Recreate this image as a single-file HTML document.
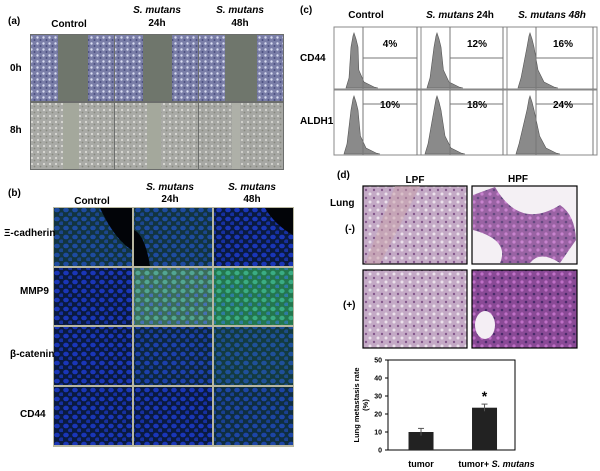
<!DOCTYPE html>
<html><head><meta charset="utf-8">
<style>
html,body{margin:0;padding:0;background:#fff;}
body{width:600px;height:471px;overflow:hidden;position:relative;font-family:"Liberation Sans",Arial,sans-serif;}
svg{position:absolute;left:0;top:0;}
text{font-family:"Liberation Sans",Arial,sans-serif;font-weight:bold;fill:#000;}
</style></head>
<body>
<svg id="fig" width="600" height="471" viewBox="0 0 600 471">
<defs>
 <pattern id="cellsA" width="6" height="6" patternUnits="userSpaceOnUse">
  <rect width="6" height="6" fill="#7a7ea8"/>
  <circle cx="1.5" cy="1.5" r="1.2" fill="#d8dcf0"/><circle cx="4.5" cy="4" r="1" fill="#4a4f80"/>
 </pattern>
 <pattern id="cellsB" width="6" height="6" patternUnits="userSpaceOnUse">
  <rect width="6" height="6" fill="#a9aaa6"/>
  <circle cx="2" cy="2" r="1.1" fill="#d9d9d4"/><circle cx="4.5" cy="4.5" r="0.9" fill="#87887f"/>
 </pattern>
 <pattern id="nucA" width="9" height="9" patternUnits="userSpaceOnUse">
  <rect width="9" height="9" fill="#0a1a40"/>
  <ellipse cx="3" cy="3" rx="2.8" ry="2.3" fill="#1a36b8"/><ellipse cx="7.5" cy="7.5" rx="2.5" ry="2.1" fill="#1630a0"/>
 </pattern>
 <pattern id="nucG" width="9" height="9" patternUnits="userSpaceOnUse">
  <rect width="9" height="9" fill="#1a5a48"/>
  <ellipse cx="3" cy="3" rx="2.6" ry="2.2" fill="#38a090"/><ellipse cx="7.5" cy="7.5" rx="2.4" ry="2" fill="#2a60b8"/>
 </pattern>
 <pattern id="lungL" width="8" height="8" patternUnits="userSpaceOnUse">
  <rect width="8" height="8" fill="#c4aac6"/>
  <circle cx="2" cy="2" r="1.5" fill="#ece2ec"/><circle cx="6" cy="6" r="1.2" fill="#84588c"/>
 </pattern>
 <pattern id="lungH" width="8" height="8" patternUnits="userSpaceOnUse">
  <rect width="8" height="8" fill="#8a4a96"/>
  <circle cx="2" cy="2" r="1.6" fill="#c070c8"/><circle cx="6" cy="6" r="1.3" fill="#4a2a6a"/>
 </pattern>
</defs>

<!-- (a) -->
<g>
 <text x="8" y="24" font-size="10">(a)</text>
 <text x="69" y="27" font-size="10" text-anchor="middle">Control</text>
 <text x="157" y="13" font-size="10" text-anchor="middle" font-style="italic">S. mutans</text>
 <text x="157" y="26" font-size="10" text-anchor="middle">24h</text>
 <text x="240" y="13" font-size="10" text-anchor="middle" font-style="italic">S. mutans</text>
 <text x="240" y="26" font-size="10" text-anchor="middle">48h</text>
 <text x="10" y="71" font-size="10">0h</text>
 <text x="10" y="133" font-size="10">8h</text>
 <rect x="30" y="34" width="254" height="136" fill="#6c6e6c"/>
 <rect x="31" y="35" width="83" height="66" fill="url(#cellsA)"/><rect x="58" y="35" width="30" height="66" fill="#6f766c"/>
 <rect x="115" y="35" width="83" height="66" fill="url(#cellsA)"/><rect x="143" y="35" width="29" height="66" fill="#6f766c"/>
 <rect x="199" y="35" width="84" height="66" fill="url(#cellsA)"/><rect x="225" y="35" width="32" height="66" fill="#6f766c"/>
 <rect x="31" y="103" width="83" height="66" fill="url(#cellsB)"/><rect x="63" y="103" width="16" height="66" fill="#a4a89c"/>
 <rect x="115" y="103" width="83" height="66" fill="url(#cellsB)"/><rect x="147" y="103" width="14" height="66" fill="#a4a89c"/>
 <rect x="199" y="103" width="84" height="66" fill="url(#cellsB)" opacity="0.95"/><rect x="232" y="103" width="8" height="66" fill="#aeb0a8"/>
</g>

<!-- (b) -->
<g>
 <text x="8" y="196" font-size="10">(b)</text>
 <text x="92" y="204" font-size="10" text-anchor="middle">Control</text>
 <text x="170" y="190" font-size="10" text-anchor="middle" font-style="italic">S. mutans</text>
 <text x="170" y="202" font-size="10" text-anchor="middle">24h</text>
 <text x="252" y="190" font-size="10" text-anchor="middle" font-style="italic">S. mutans</text>
 <text x="252" y="202" font-size="10" text-anchor="middle">48h</text>
 <rect x="53" y="207" width="241" height="240" fill="#b8b7a0"/>
 <g>
  <rect x="54" y="208" width="78" height="58" fill="url(#nucA)"/><rect x="54" y="208" width="78" height="58" fill="#30a040" opacity="0.2"/>
  <rect x="134" y="208" width="78" height="58" fill="url(#nucA)"/><rect x="134" y="208" width="78" height="58" fill="#30a040" opacity="0.2"/>
  <rect x="214" y="208" width="79" height="58" fill="url(#nucA)"/>
  <path d="M100 208 L132 208 L132 250 Q115 240 100 208Z" fill="#020408"/>
  <path d="M134 230 Q145 235 150 266 L134 266Z" fill="#020408"/>
  <path d="M265 208 L293 208 L293 235 Q275 225 265 208Z" fill="#020408"/>
  <rect x="54" y="268" width="78" height="57" fill="url(#nucA)"/>
  <rect x="134" y="268" width="78" height="57" fill="url(#nucG)" opacity="0.8"/>
  <rect x="214" y="268" width="79" height="57" fill="url(#nucG)"/><rect x="214" y="268" width="79" height="57" fill="#40d060" opacity="0.25"/>
  <rect x="54" y="327" width="78" height="58" fill="url(#nucA)"/>
  <rect x="134" y="327" width="78" height="58" fill="url(#nucA)"/><rect x="134" y="327" width="78" height="58" fill="#30a040" opacity="0.1"/>
  <rect x="214" y="327" width="79" height="58" fill="url(#nucA)"/><rect x="214" y="327" width="79" height="58" fill="#30a040" opacity="0.25"/>
  <rect x="54" y="387" width="78" height="58" fill="url(#nucA)"/>
  <rect x="134" y="387" width="78" height="58" fill="url(#nucA)"/>
  <rect x="214" y="387" width="79" height="58" fill="url(#nucA)"/><rect x="214" y="387" width="79" height="58" fill="#30a040" opacity="0.15"/>
 </g>
 <text x="4" y="236" font-size="10">Ξ-cadherin</text>
 <text x="20" y="294" font-size="10">MMP9</text>
 <text x="10" y="357" font-size="10">β-catenin</text>
 <text x="20" y="417" font-size="10">CD44</text>
</g>

<!-- (c) -->
<g>
 <text x="300" y="13" font-size="10">(c)</text>
 <text x="366" y="18" font-size="10" text-anchor="middle">Control</text>
 <text x="460" y="18" font-size="10" text-anchor="middle"><tspan font-style="italic">S. mutans</tspan> 24h</text>
 <text x="552" y="18" font-size="10" text-anchor="middle"><tspan font-style="italic">S. mutans 48h</tspan></text>
 <text x="300" y="61" font-size="10">CD44</text>
 <text x="300" y="124" font-size="10">ALDH1</text>
 <g id="flow" fill="none" stroke="#777" stroke-width="1"></g>
</g>

<!-- (d) -->
<g>
 <text x="337" y="178" font-size="10">(d)</text>
 <text x="415" y="183" font-size="10" text-anchor="middle">LPF</text>
 <text x="518" y="182" font-size="10" text-anchor="middle">HPF</text>
 <text x="330" y="206" font-size="10">Lung</text>
 <text x="345" y="232" font-size="10">(-)</text>
 <text x="343" y="308" font-size="10">(+)</text>
 <rect x="363" y="186" width="104" height="78" fill="url(#lungL)" stroke="#000" stroke-width="1.2"/>
 <path d="M395 186 L420 186 L380 264 L365 264Z" fill="#c8a0a8" opacity="0.5"/>
 <rect x="472" y="186" width="105" height="78" fill="#f4f0f4" stroke="#000" stroke-width="1.2"/>
 <path d="M495 187 Q520 230 560 205 Q575 215 576 240 L560 263 Q540 250 530 263 L500 263 Q510 240 473 230 L473 195Z" fill="url(#lungH)" opacity="0.85"/>
 <rect x="363" y="270" width="104" height="78" fill="url(#lungL)" stroke="#000" stroke-width="1.2"/>
 <rect x="472" y="270" width="105" height="78" fill="url(#lungH)" stroke="#000" stroke-width="1.2"/>
 <ellipse cx="485" cy="325" rx="10" ry="14" fill="#f4eef4"/>
</g>

<!-- bar chart -->
<g id="chart"></g>
</svg>

<script>
var NS="http://www.w3.org/2000/svg";
function mk(tag,attrs,parent){var e=document.createElementNS(NS,tag);for(var k in attrs)e.setAttribute(k,attrs[k]);parent.appendChild(e);return e;}

// flow cytometry panel: percentages
var flowRows=["CD44","ALDH1"];
var flowCols=["Control","S. mutans 24h","S. mutans 48h"];
var flowPct=[["4%","12%","16%"],["10%","18%","24%"]];
(function(){
var flow=document.getElementById("flow");
var colX=[334,421,507], colW=[87,86,90], rowY=[27,90], rowH=[62,65];
var gateOff=[29,29,29], peakOff=[20,16,23];
for(var r=0;r<2;r++)for(var c=0;c<3;c++){
  var x=colX[c],y=rowY[r],w=colW[c],h=rowH[r];
  var box=mk("rect",{x:x,y:y,width:w,height:h,fill:"#fff",stroke:"#888"},flow);
  
  
  var px=x+peakOff[c], hw=(r==0?6:8)+c*2;
  var base=y+h-1, pk=y+6;
  var pts=[[px-hw-2,base],[px-hw+1,base-10],[px-3,pk+14],[px-1,pk+3],[px,pk],[px+2,pk+6],[px+4,pk+14],[px+hw*0.8,base-18],[px+hw+4,base-6],[px+hw+14,base-1],[px+hw+18,base]];
  var d="M"+pts.map(function(p){return p[0]+" "+p[1];}).join(" L")+"Z";
  var hist=mk("path",{d:d,fill:"#8a8a8a",stroke:"#555","stroke-width":0.6},flow);
  
  
  var gx=x+gateOff[c];
  mk("line",{x1:gx,y1:y,x2:gx,y2:y+h},flow);
  mk("line",{x1:x+w-4,y1:y,x2:x+w-4,y2:y+h},flow);
  var hy=r==0?y+31:y+14;
  mk("line",{x1:gx,y1:hy,x2:x+w-4,y2:hy},flow);
  var t=mk("text",{x:gx+27,y:y+(r==0?20:18),"font-size":10,"text-anchor":"middle",stroke:"none",fill:"#000"},flow);
  t.textContent=flowPct[r][c];
  
  
}
})();

// bar chart data
var categories=["tumor","tumor+"];
var values=[10,23.5];
var errors=[2,2];
var yTicks=[0,10,20,30,40,50];
(function(){
var chart=document.getElementById("chart");
var X0=388,X1=515,Y0=450,Y1=360,YMAX=50;
function ys(v){return Y0-(v/YMAX)*(Y0-Y1);}
var barCenters=[X0+(X1-X0)*0.26,X0+(X1-X0)*0.76];
var bw=25;
var axis=mk("rect",{x:X0,y:Y1,width:X1-X0,height:Y0-Y1,fill:"#fff",stroke:"#000","stroke-width":1},chart);


yTicks.forEach(function(t){
  mk("line",{x1:X0-3,y1:ys(t),x2:X0,y2:ys(t),stroke:"#000"},chart);
  var l=mk("text",{x:X0-6,y:ys(t)+2.5,"font-size":7,"text-anchor":"end"},chart);
  l.textContent=t;
  
  
});
values.forEach(function(v,i){
  var cx=barCenters[i];
  var b=mk("rect",{x:cx-bw/2,y:ys(v),width:bw,height:Y0-ys(v),fill:"#222"},chart);
  
  
  mk("line",{x1:cx,y1:ys(v+errors[i]),x2:cx,y2:ys(v-errors[i]),stroke:"#555","stroke-width":1},chart);
  mk("line",{x1:cx-3,y1:ys(v+errors[i]),x2:cx+3,y2:ys(v+errors[i]),stroke:"#555","stroke-width":1},chart);
});
var star=mk("text",{x:barCenters[1],y:ys(values[1]+errors[1])-3,"font-size":14,"text-anchor":"middle"},chart);
star.textContent="*";


var l1=mk("text",{x:barCenters[0],y:467,"font-size":9,"text-anchor":"middle"},chart);
l1.textContent="tumor";


var l2=mk("text",{x:barCenters[1]+12,y:467,"font-size":9,"text-anchor":"middle"},chart);
l2.innerHTML='tumor+ <tspan font-style="italic">S. mutans</tspan>';


var yt=mk("text",{transform:"translate(359,405) rotate(-90)","font-size":7.5,"text-anchor":"middle"},chart);
yt.textContent="Lung metastasis rate";


var yt2=mk("text",{transform:"translate(368,405) rotate(-90)","font-size":7.5,"text-anchor":"middle"},chart);
yt2.textContent="(%)";


})();
</script>
</body></html>
